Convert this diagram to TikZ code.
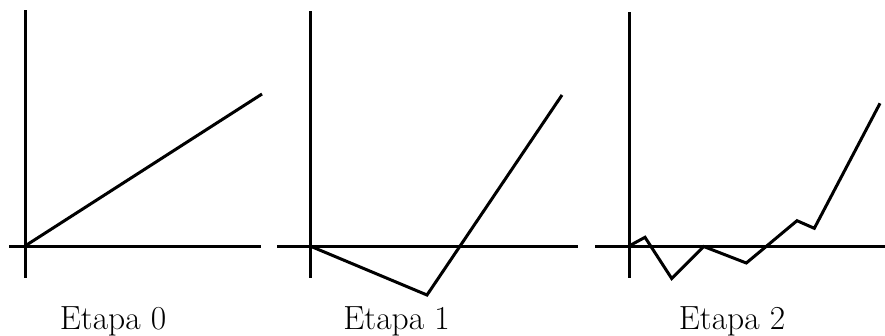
\documentclass[tikz,border=0pt]{standalone}
\usetikzlibrary{positioning}
\tikzset{
  eje/.style={color=black,line width=3pt},
  camino/.style={color=black,line width=3pt,line join=miter},
  etiqueta/.style={anchor=base,font=\fontsize{33.5}{40}\selectfont}
}
\begin{document}
\begin{tikzpicture}[x=1pt,y=-1pt]
\useasboundingbox (0,0) rectangle (885,335);
% Etapa 0
\draw[eje] (25,10)--(25,278);
\draw[eje] (9,246)--(261,246);
\draw[camino] (25,246)--(262,94);
\node[etiqueta] (lab0) at (113,329) {Etapa 0};
% Etapa 1
\draw[eje] (310,11)--(310,278);
\draw[eje] (277,246)--(578,246);
\draw[camino] (310,246)--(427,295)--(562,95);
\node[etiqueta] (lab1) at (396.5,329) {Etapa 1};
% Etapa 2
\draw[eje] (629,12)--(629,278);
\draw[eje] (595,246)--(885,246);
\draw[camino] (629,246)--(645,237.3)--(671.7,278.5)--(703.7,246.5)--(746.3,263)--(766.7,246)--(797,220.7)--(814.3,228.3)--(880,103.3);
\node[etiqueta] (lab2) at (732,329) {Etapa 2};
\end{tikzpicture}
\end{document}
